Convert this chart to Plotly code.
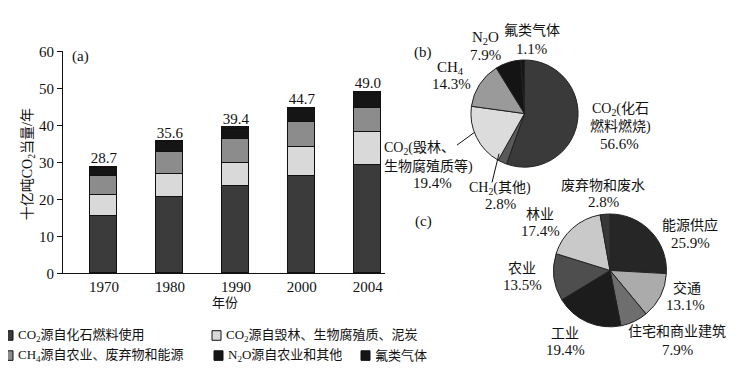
import plotly.graph_objects as go

# ---------------- data ----------------
years = ["1970", "1980", "1990", "2000", "2004"]
co2_fossil = [15.4, 20.5, 23.4, 26.1, 29.2]
co2_deforest = [5.6, 6.3, 6.2, 8.0, 8.8]
ch4 = [5.2, 5.8, 6.5, 6.7, 6.7]
n2o = [2.3, 2.7, 2.9, 3.4, 3.8]
fgas = [0.2, 0.3, 0.4, 0.5, 0.5]
totals = [28.7, 35.6, 39.4, 44.7, 49.0]
total_labels = ["28.7", "35.6", "39.4", "44.7", "49.0"]

pie_b_labels = ["CO2(化石燃料燃烧)", "CH2(其他)", "CO2(毁林、生物腐殖质等)", "CH4", "N2O", "氟类气体"]
pie_b_values = [56.6, 2.8, 19.4, 14.3, 7.9, 1.1]

pie_c_labels = ["能源供应", "交通", "住宅和商业建筑", "工业", "农业", "林业", "废弃物和废水"]
pie_c_values = [25.9, 13.1, 7.9, 19.4, 13.5, 17.4, 2.8]

# ---------------- style ----------------
# the page body has an 8px margin, so the figure is drawn 8px in from the window corner
OFF = 8
W, H = 741 - OFF, 376 - OFF
FONT = "Liberation Serif, Times New Roman, Noto Sans CJK SC, serif"
C_FOSSIL = "#3b3b3b"
C_DEFOR = "#d9d9d9"
C_CH4 = "#8c8c8c"
C_N2O = "#151515"
C_F = "#151515"


def px(x, y):
    return (x - OFF) / W, 1 - (y - OFF) / H


def dom_x(a, b):
    return [px(a, 0)[0], px(b, 0)[0]]


def dom_y(top, bottom):
    return [px(0, bottom)[1], px(0, top)[1]]


fig = go.Figure()

series = [
    ("CO₂源自化石燃料使用", co2_fossil, C_FOSSIL),
    ("CO₂源自毁林、生物腐殖质、泥炭", co2_deforest, C_DEFOR),
    ("CH₄源自农业、废弃物和能源", ch4, C_CH4),
    ("N₂O源自农业和其他", n2o, C_N2O),
    ("氟类气体", fgas, C_F),
]
for name, vals, col in series:
    fig.add_trace(go.Bar(
        x=years, y=vals, name=name, width=0.41,
        marker=dict(color=col, line=dict(color="#111", width=1)),
        showlegend=False, xaxis="x", yaxis="y",
    ))

fig.add_trace(go.Scatter(
    x=years, y=totals, text=total_labels, mode="text",
    textposition="top center", textfont=dict(size=15, family=FONT, color="#111"),
    showlegend=False, xaxis="x", yaxis="y", cliponaxis=False,
))

fig.add_trace(go.Pie(
    labels=pie_b_labels, values=pie_b_values, sort=False, direction="clockwise",
    rotation=0, textinfo="none", hoverinfo="label+value",
    marker=dict(colors=["#3a3a3a", "#5a5a5a", "#dcdcdc", "#9a9a9a", "#141414", "#141414"],
                line=dict(color="#222", width=1)),
    domain=dict(x=dom_x(468, 581), y=dom_y(54, 166)),
    showlegend=False,
))

fig.add_trace(go.Pie(
    labels=pie_c_labels, values=pie_c_values, sort=False, direction="clockwise",
    rotation=0, textinfo="none", hoverinfo="label+value",
    marker=dict(colors=["#262626", "#ababab", "#6e6e6e", "#1c1c1c", "#4e4e4e", "#c9c9c9", "#383838"],
                line=dict(color="#222", width=1)),
    domain=dict(x=dom_x(551, 669), y=dom_y(215, 333)),
    showlegend=False,
))

annotations = []


def txt(x, y, s, size=15, xanchor="center", angle=0):
    xx, yy = px(x, y)
    annotations.append(dict(
        x=xx, y=yy, xref="paper", yref="paper", text=s, showarrow=False,
        xanchor=xanchor, yanchor="middle", textangle=angle,
        font=dict(size=size, family=FONT, color="#111"),
    ))


# bar chart texts
txt(80, 50, "(a)", size=15)
txt(225, 307, "年份", size=13)
txt(28, 163, "十亿吨CO<sub>2</sub>当量/年", size=14, angle=-90)

# pie (b) texts
txt(423, 46, "(b)")
txt(485, 31, "N<sub>2</sub>O")
txt(485, 49, "7.9%")
txt(532, 23, "氟类气体", size=14)
txt(531, 42, "1.1%")
txt(450, 62, "CH<sub>4</sub>")
txt(452, 79, "14.3%")
txt(620, 106, "CO<sub>2</sub>(化石", size=14)
txt(620, 124, "燃料燃烧)", size=14)
txt(619, 142, "56.6%")
txt(419, 147, "CO<sub>2</sub>(毁林、", size=14)
txt(428, 165, "生物腐殖质等)", size=14)
txt(432, 183, "19.4%")
txt(500, 188, "CH<sub>2</sub>(其他)", size=14)
txt(500, 205, "2.8%")

# pie (c) texts
txt(603, 185, "废弃物和废水", size=14)
txt(603, 202, "2.8%")
txt(423, 223, "(c)")
txt(540, 216, "林业", size=14)
txt(540, 233, "17.4%")
txt(690, 227, "能源供应", size=14)
txt(690, 245, "25.9%")
txt(522, 272, "农业", size=14)
txt(522, 289, "13.5%")
txt(687, 292, "交通", size=14)
txt(685, 310, "13.1%")
txt(565, 340, "工业", size=14)
txt(565, 357, "19.4%")
txt(677, 338, "住宅和商业建筑", size=14)
txt(677, 357, "7.9%")

# legend texts
legend_items = [
    (4, 342, C_FOSSIL, "CO<sub>2</sub>源自化石燃料使用"),
    (212, 342, C_DEFOR, "CO<sub>2</sub>源自毁林、生物腐殖质、泥炭"),
    (4, 363, C_CH4, "CH<sub>4</sub>源自农业、废弃物和能源"),
    (214, 363, C_N2O, "N<sub>2</sub>O源自农业和其他"),
    (361, 363, C_F, "氟类气体"),
]
shapes = []
for lx, ly, col, s in legend_items:
    x0, y0 = px(lx, ly - 5)
    x1, y1 = px(lx + 9, ly + 5)
    shapes.append(dict(type="rect", xref="paper", yref="paper", x0=x0, y0=y1, x1=x1, y1=y0,
                       fillcolor=col, line=dict(color="#111", width=1)))
    txt(lx + 12, ly, s, size=13, xanchor="left")

# leader lines for pie (b)
for (ax, ay, bx, by) in [(474, 130, 457, 143), (499, 152, 492, 182)]:
    x0, y0 = px(ax, ay)
    x1, y1 = px(bx, by)
    shapes.append(dict(type="line", xref="paper", yref="paper", x0=x0, y0=y0, x1=x1, y1=y1,
                       line=dict(color="#111", width=1)))

fig.update_layout(
    width=W, height=H, margin=dict(l=0, r=0, t=0, b=0),
    paper_bgcolor="white", plot_bgcolor="white",
    barmode="stack", bargap=0,
    font=dict(family=FONT, size=13, color="#111"),
    xaxis=dict(domain=dom_x(63, 385), type="category", range=[-0.62, 4.26],
               showline=True, linecolor="#111", linewidth=1, ticks="", showgrid=False,
               zeroline=False, tickfont=dict(size=15, family=FONT)),
    yaxis=dict(domain=dom_y(45, 277), range=[0, 60], tickvals=[0, 10, 20, 30, 40, 50, 60],
               showline=True, linecolor="#111", linewidth=1, ticks="outside", ticklen=5,
               tickcolor="#111", showgrid=False, zeroline=False, tickfont=dict(size=15, family=FONT)),
    annotations=annotations,
    shapes=shapes,
)

fig.write_html("out.html")
